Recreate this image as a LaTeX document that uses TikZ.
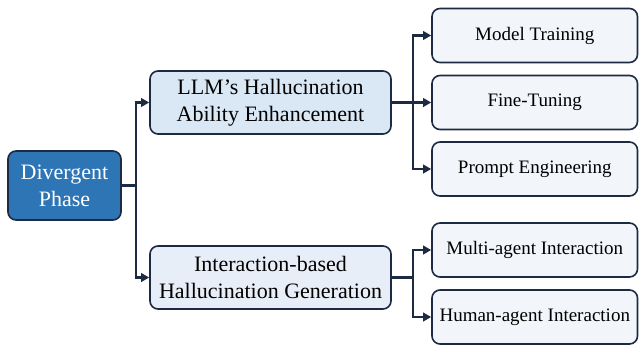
\documentclass[tikz,border=0pt]{standalone}
\usepackage{fontspec}
\setmainfont{Liberation Serif}
\usetikzlibrary{arrows.meta}
\definecolor{navy}{HTML}{1C2A44}
\definecolor{divblue}{HTML}{2E75B6}
\definecolor{llmfill}{HTML}{DAE8F5}
\definecolor{intfill}{HTML}{E8EEF8}
\definecolor{leaffill}{HTML}{F2F5FA}
\tikzset{
  base/.style={draw=navy, line width=1.6pt, rounded corners=8pt, align=center, inner sep=0pt},
  rootbox/.style={base, fill=divblue, text=white, minimum width=113pt, minimum height=69pt, font=\fontsize{22}{27}\selectfont},
  midbox/.style={base, minimum width=241pt, minimum height=63pt, font=\fontsize{22}{27}\selectfont},
  leafbox/.style={base, fill=leaffill, minimum width=205.5pt, minimum height=54pt, font=\fontsize{19}{23}\selectfont},
  conn/.style={draw=navy, line width=2.2pt, -{Triangle[length=8pt,width=8.5pt]}},
}
\begin{document}
\begin{tikzpicture}[x=1pt,y=-1pt]
\useasboundingbox (0,0) rectangle (639,346);
\node[rootbox] (div) at (64.5,185.5) {Divergent\\Phase};
\node[midbox, fill=llmfill] (llm) at (270.5,102.5) {LLM’s Hallucination\\Ability Enhancement};
\node[midbox, fill=intfill] (inter) at (270.5,277.5) {Interaction-based\\Hallucination Generation};
\node[leafbox] (mt) at (534.75,35.5) {Model Training};
\node[leafbox] (ft) at (534.75,102.5) {Fine-Tuning};
\node[leafbox] (pe) at (534.75,169) {Prompt Engineering};
\node[leafbox] (ma) at (534.75,250) {Multi-agent Interaction};
\node[leafbox] (ha) at (534.75,317) {Human-agent Interaction};
\coordinate (j0) at ([xshift=14pt]div.east);
\coordinate (j1) at ([xshift=21pt]llm.east);
\coordinate (j2) at ([xshift=21pt]inter.east);
\draw[conn] (div.east) -- (j0) |- (llm.west);
\draw[conn] (j0) |- (inter.west);
\draw[conn] (llm.east) -- (ft.west);
\draw[conn] (j1) |- (mt.west);
\draw[conn] (j1) |- (pe.west);
\draw[line width=2.2pt, draw=navy] (inter.east) -- (j2);
\draw[conn] (j2) |- (ma.west);
\draw[conn] (j2) |- (ha.west);
\end{tikzpicture}
\end{document}
